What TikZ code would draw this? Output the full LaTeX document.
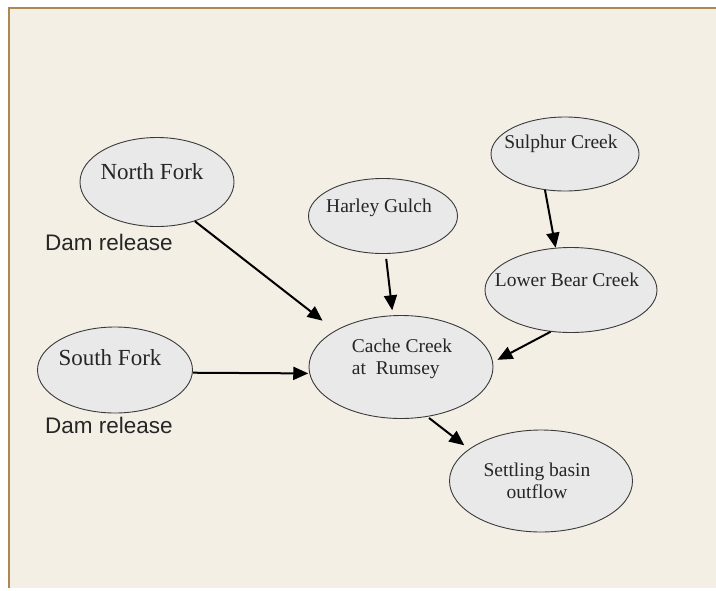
\documentclass[tikz,border=0pt]{standalone}
\usepackage{fontspec}
\setmainfont{Liberation Serif}
\setsansfont{Liberation Sans}
\usetikzlibrary{shapes.geometric,arrows.meta}

\definecolor{paper}{HTML}{F4EFE5}
\definecolor{rim}{HTML}{AE8853}
\definecolor{blobfill}{HTML}{E9E9EA}
\definecolor{blobline}{HTML}{3A3A3A}
\definecolor{ink}{HTML}{262626}

\tikzset{
  blob/.style={ellipse, draw=blobline, fill=blobfill, line width=0.9pt, inner sep=0pt},
  creektext/.style={font=\fontsize{19.5}{22.5}\selectfont, text=ink, inner sep=0pt, xshift=-4pt, yshift=#1},
  forktext/.style={font=\fontsize{23}{26}\selectfont, text=ink, inner sep=0pt, xshift=-5pt, yshift=#1},
  flow/.style={-{Triangle[length=15pt,width=13pt]}, line width=2pt},
  note/.style={font=\sffamily\fontsize{22.5}{26}\selectfont, text=ink, anchor=west, inner sep=0pt}
}

\begin{document}
\begin{tikzpicture}[x=1pt,y=-1pt]
    \useasboundingbox (0,0) rectangle (716,590);
    \fill[paper] (9,8) rectangle (716,588);
    \draw[rim, line width=2.2pt] (9,588) -- (9,8) -- (716,8);

    % sources
    \node[blob, minimum width=154pt, minimum height=89pt,
          label={[forktext=10pt]center:North Fork}] (nf) at (157,182) {};
    \node[blob, minimum width=155pt, minimum height=86pt,
          label={[forktext=12pt]center:South Fork}] (sf) at (115,370) {};
    \node[blob, minimum width=149pt, minimum height=75pt,
          label={[creektext=8pt]center:Harley Gulch}] (hg) at (383,216) {};
    \node[blob, minimum width=148pt, minimum height=74pt,
          label={[creektext=10pt]center:Sulphur Creek}] (sc) at (565,154) {};
    \node[blob, minimum width=172pt, minimum height=85pt,
          label={[creektext=10pt]center:Lower Bear Creek}] (lb) at (571,290) {};

    % main stem and outflow
    \node[blob, minimum width=184pt, minimum height=103pt,
          label={[creektext=8pt, xshift=5pt, align=left]center:Cache Creek\\at\ \ Rumsey}] (cc) at (401,367) {};
    \node[blob, minimum width=183pt, minimum height=102pt,
          label={[creektext=0pt, align=center]center:Settling basin\\outflow}] (sb) at (541,481) {};

    \node[note] (dr1) at (45,242) {Dam release};
    \node[note] (dr2) at (45,425) {Dam release};

    \draw[flow, shorten >=16pt] (nf.-46) -- (cc.151);
    \draw[flow, shorten >=1pt] (sf.-2) -- (cc.184);
    \draw[flow, shorten <=5pt, shorten >=5pt] (hg.-86) -- (cc.99);
    \draw[flow] (sc.-119) -- (lb.110);
    \draw[flow, shorten >=5pt] (lb.-116) -- (cc.3);
    \draw[flow, shorten <=2pt, shorten >=6pt] (cc.-62) -- (sb.156);
\end{tikzpicture}
\end{document}
